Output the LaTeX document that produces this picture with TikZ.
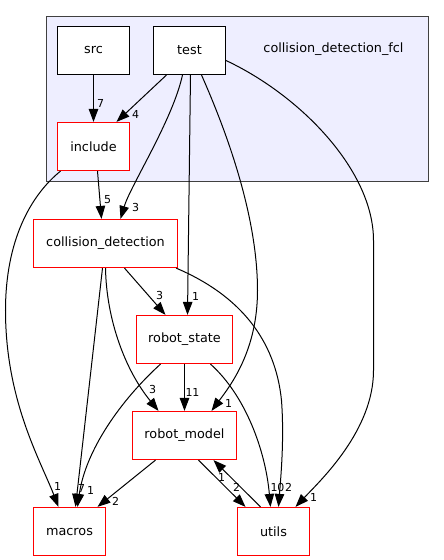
\documentclass[tikz,border=0pt]{standalone}
\usepackage{fontspec}
\setmainfont{DejaVu Sans}
\usetikzlibrary{arrows.meta}
\definecolor{clusterfill}{HTML}{EEEEFF}
\definecolor{clusterline}{HTML}{404040}
\tikzset{
	dirbox/.style={draw=black,fill=white,line width=1pt,inner sep=0pt,minimum height=48pt,
		font=\fontsize{12.8}{15}\selectfont},
	reddir/.style={dirbox,draw=red,line width=1.2pt},
	dep/.style={line width=1pt,-{Triangle[length=13pt,width=9.5pt]}},
	elabel/.style={inner sep=0pt,font=\fontsize{11}{13}\selectfont},
}
\begin{document}
\begin{tikzpicture}[x=1pt,y=-1pt]
		\useasboundingbox (-0.5,-0.5) rectangle (443.5,559.5); % 像素对齐
		% 外框 collision_detection_fcl
		\draw[fill=clusterfill,draw=clusterline,line width=1pt] (46,16) rectangle (428,181);
		\node[font=\fontsize{12.8}{15}\selectfont] (fcl) at (333,49) {collision\_detection\_fcl};
		% 目录节点
		\node[dirbox,minimum width=72pt] (src) at (93,50) {src};
		\node[dirbox,minimum width=72pt] (test) at (189,50) {test};
		\node[reddir,minimum width=72pt] (include) at (93,146) {include};
		\node[reddir,minimum width=144pt] (cd) at (105,243) {collision\_detection};
		\node[reddir,minimum width=96pt] (rs) at (184,339) {robot\_state};
		\node[reddir,minimum width=104pt] (rm) at (184,435) {robot\_model};
		\node[reddir,minimum width=72pt] (macros) at (69,531) {macros};
		\node[reddir,minimum width=72pt] (utils) at (273,531) {utils};
		% 依赖
		\draw[dep] (src) -- (include);
		\draw[dep] ([xshift=-23]test.south) -- ([xshift=23]include.north);
		\draw[dep] ([xshift=-7]test.south) .. controls (172,120) and (130,185) .. ([xshift=15]cd.north);
		\draw[dep] ([xshift=1]test.south) -- ([xshift=3]rs.north);
		\draw[dep] ([xshift=12]test.south) .. controls (230,140) and (257,220) .. (257,290)
			.. controls (257,350) and (230,385) .. ([xshift=27]rm.north);
		\draw[dep] ([yshift=-10]test.east) .. controls (300,95) and (373,170) .. (373,240) -- (373,370)
			.. controls (373,430) and (320,480) .. ([xshift=22]utils.north);
		\draw[dep] ([xshift=4]include.south) -- ([xshift=-4]cd.north);
		\draw[dep] ([xshift=-33]include.south) .. controls (30,195) and (5,240) .. (5,310)
			.. controls (5,400) and (40,460) .. ([xshift=-11]macros.north);
		\draw[dep] ([xshift=19]cd.south) -- ([xshift=-19]rs.north);
		\draw[dep] ([xshift=-3]cd.south) -- ([xshift=6]macros.north);
		\draw[dep] (cd.south) .. controls (106,320) and (125,370) .. ([xshift=-26]rm.north);
		\draw[dep] ([xshift=-2]cd.south east) .. controls (240,295) and (275,340) .. (281,400)
			.. controls (284,440) and (280,480) .. ([xshift=5]utils.north);
		\draw[dep] (rs) -- (rm);
		\draw[dep] ([xshift=-24]rs.south) .. controls (120,400) and (85,450) .. ([xshift=8]macros.north);
		\draw[dep] ([xshift=26]rs.south) .. controls (245,395) and (265,450) .. ([xshift=-3]utils.north);
		\draw[dep] ([xshift=-29]rm.south) -- ([xshift=28]macros.north);
		\draw[dep] ([xshift=14]rm.south) -- ([xshift=-28]utils.north);
		\draw[dep] ([xshift=-13]utils.north) -- ([xshift=29]rm.south);
		% 边上的数字
		\node[elabel] (n1) at (100,103) {7};
		\node[elabel] (n2) at (135,114) {4};
		\node[elabel] (n3) at (107,199) {5};
		\node[elabel] (n4) at (135,207) {3};
		\node[elabel] (n5) at (159,295) {3};
		\node[elabel] (n6) at (195,296) {1};
		\node[elabel] (n7) at (152,389) {3};
		\node[elabel] (n8) at (192,392) {11};
		\node[elabel] (n9) at (228,403) {1};
		\node[elabel] (n10) at (57,486) {1};
		\node[elabel] (n11) at (81,488) {7};
		\node[elabel] (n12) at (90,490) {1};
		\node[elabel] (n13) at (115,501) {2};
		\node[elabel] (n14) at (221,477) {1};
		\node[elabel] (n15) at (236,487) {2};
		\node[elabel] (n16) at (277,487) {10};
		\node[elabel] (n17) at (288,487) {2};
		\node[elabel] (n18) at (313,497) {1};
	\end{tikzpicture}
\end{document}
